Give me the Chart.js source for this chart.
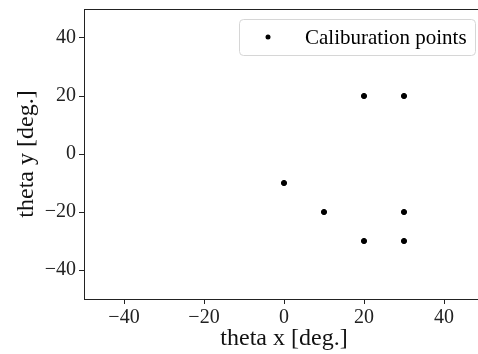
<!DOCTYPE html>
<html>
<head>
<meta charset="utf-8">
<script src="https://cdn.jsdelivr.net/npm/chart.js@4"></script>
<style>
  html, body { margin: 0; padding: 0; background: #fff; overflow: hidden; }
  #wrap { width: 488px; height: 354px; position: relative; }
</style>
</head>
<body>
<div id="wrap"><canvas id="calChart"></canvas></div>
<script>
// calibration grid (degrees)
const thetaX = [20, 30, 0, 10, 30, 20, 30];
const thetaY = [20, 20, -10, -20, -20, -30, -30];
const xTicks = [-40, -20, 0, 20, 40];
const yTicks = [-40, -20, 0, 20, 40];
const seriesLabel = 'Caliburation points';

const serif = "'Liberation Serif', 'Times New Roman', serif";
const minus = v => String(v).replace('-', '\u2212');

// drop the extra room Chart.js keeps for edge labels
const noPad = s => { s.paddingLeft = s.paddingRight = s.paddingTop = s.paddingBottom = 0; };

// frame around the plot area (top spine is not drawn by the axes)
const frame = {
    id: 'frame',
    afterDraw(chart) {
        const a = chart.chartArea, c = chart.ctx;
        c.save();
        c.strokeStyle = '#222';
        c.lineWidth = 1;
        c.beginPath();
        c.moveTo(a.left, a.top + 0.5);
        c.lineTo(a.right, a.top + 0.5);
        c.stroke();
        c.restore();
    }
};

// legend box in the upper right corner
const boxLegend = {
    id: 'boxLegend',
    afterDraw(chart) {
        const c = chart.ctx;
        const x = 239, y = 19, w = 236, h = 36, r = 4;
        c.save();
        c.fillStyle = 'rgba(255,255,255,0.8)';
        c.strokeStyle = '#d6d6d6';
        c.lineWidth = 1;
        c.beginPath();
        c.roundRect(x + 0.5, y + 0.5, w, h, r);
        c.fill();
        c.stroke();
        c.fillStyle = '#000';
        c.beginPath();
        c.arc(268, y + h / 2, 2.5, 0, Math.PI * 2);
        c.fill();
        c.font = '21px ' + serif;
        c.textBaseline = 'middle';
        c.fillText(chart.data.datasets[0].label, 305, y + h / 2 + 1);
        c.restore();
    }
};

const ctx = document.getElementById('calChart').getContext('2d');
new Chart(ctx, {
    type: 'scatter',
    data: {
        datasets: [{
            label: seriesLabel,
            data: thetaX.map((x, i) => ({ x: x, y: thetaY[i] })),
            backgroundColor: '#000',
            borderColor: '#000',
            pointRadius: 2.6,
            pointHoverRadius: 2.6
        }]
    },
    options: {
        responsive: true,
        maintainAspectRatio: false,
        animation: false,
        layout: { padding: { top: 9, right: 4, left: 0, bottom: 0 } },
        plugins: { legend: { display: false }, tooltip: { enabled: false } },
        scales: {
            x: {
                type: 'linear',
                min: -50, max: 50,
                afterBuildTicks: s => { s.ticks = xTicks.map(v => ({ value: v })); },
                afterFit: s => { s.height = 55; noPad(s); },
                grid: { drawOnChartArea: false, drawTicks: true, tickLength: 5, color: '#222' },
                border: { display: true, color: '#222', width: 1 },
                ticks: { color: '#222', font: { family: serif, size: 20 }, padding: 2, maxRotation: 0, callback: minus },
                title: { display: true, text: 'theta x [deg.]', color: '#111', font: { family: serif, size: 24 }, padding: { top: 0, bottom: 1 } }
            },
            y: {
                type: 'linear',
                min: -50, max: 50,
                afterBuildTicks: s => { s.ticks = yTicks.map(v => ({ value: v })); },
                afterFit: s => { s.width = 84; noPad(s); },
                grid: { drawOnChartArea: false, drawTicks: true, tickLength: 5, color: '#222' },
                border: { display: true, color: '#222', width: 1 },
                ticks: { color: '#222', font: { family: serif, size: 20 }, padding: 3, callback: minus },
                title: { display: true, text: 'theta y [deg.]', color: '#111', font: { family: serif, size: 24 }, padding: { top: 12, bottom: 0 } }
            }
        }
    },
    plugins: [frame, boxLegend]
});
</script>
</body>
</html>
